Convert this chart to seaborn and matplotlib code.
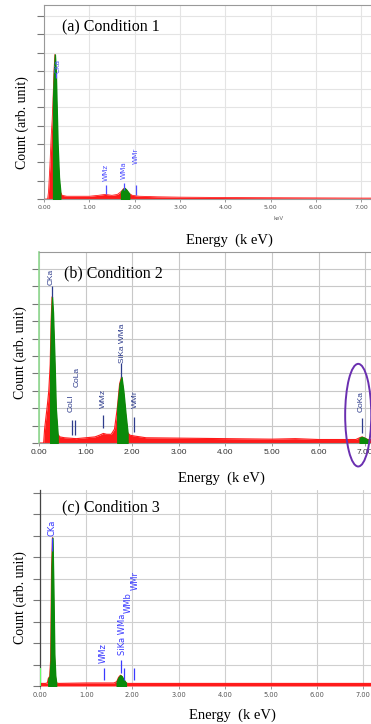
import numpy as np
import pandas as pd
import matplotlib
matplotlib.use("Agg")
import matplotlib.pyplot as plt
import seaborn as sns
from matplotlib.patches import Ellipse

# spectra, counts in grid units (one unit = one gridline)
energy_a = [0.00, 0.08, 0.10, 0.13, 0.16, 0.18, 0.20, 0.22, 0.24, 0.26, 0.28, 0.30, 0.33, 0.36, 0.40,
            0.50, 0.70, 1.00, 1.20, 1.35, 1.50, 1.62, 1.70, 1.75, 1.78, 1.82, 1.88, 1.95, 2.10, 2.50,
            3.00, 4.00, 5.00, 6.00, 7.00, 7.50]
counts_a = [0, 0, 0.4, 1.8, 3.5, 4.3, 5.5, 7.0, 7.9, 7.0, 5.0, 3.0, 1.2, 0.4, 0.2,
            0.15, 0.15, 0.15, 0.2, 0.25, 0.2, 0.25, 0.4, 0.55, 0.6, 0.5, 0.3, 0.2, 0.15, 0.12,
            0.1, 0.08, 0.07, 0.06, 0.05, 0.05]
green_a = [(0.19, 0.36), (1.65, 1.92)]

energy_b = [0.00, 0.10, 0.12, 0.15, 0.18, 0.21, 0.24, 0.26, 0.28, 0.30, 0.33, 0.36, 0.40, 0.45, 0.55,
            0.80, 1.00, 1.20, 1.30, 1.38, 1.45, 1.55, 1.62, 1.68, 1.73, 1.77, 1.81, 1.86, 1.90, 1.95,
            2.05, 2.30, 3.00, 4.00, 5.00, 5.50, 6.00, 6.80, 6.88, 6.93, 6.98, 7.05, 7.50]
counts_b = [0, 0, 0.8, 1.5, 2.2, 3.0, 4.5, 7.0, 8.4, 7.5, 5.0, 2.0, 0.5, 0.35, 0.3,
            0.25, 0.3, 0.35, 0.45, 0.55, 0.5, 0.5, 0.8, 2.0, 3.4, 3.8, 3.0, 1.6, 0.6, 0.45,
            0.4, 0.3, 0.28, 0.25, 0.22, 0.25, 0.2, 0.2, 0.3, 0.35, 0.3, 0.2, 0.2]
green_b = [(0.24, 0.40), (1.64, 1.90), (6.82, 7.05)]

energy_c = [0.00, 0.12, 0.16, 0.18, 0.21, 0.23, 0.25, 0.27, 0.29, 0.31, 0.33, 0.35, 0.40, 1.00,
            1.60, 1.66, 1.70, 1.74, 1.77, 1.81, 1.86, 1.90, 3.00, 7.50]
counts_c = [0.12, 0.12, 0.15, 0.35, 0.45, 1.2, 5.5, 6.9, 4.5, 1.5, 0.5, 0.15, 0.12, 0.14,
            0.14, 0.2, 0.4, 0.5, 0.45, 0.3, 0.15, 0.12, 0.12, 0.12]
green_c = [(0.18, 0.35), (1.66, 1.88)]
zero_peak_c = 0.85

# peak labels: text, x, bottom of text, marker bar (lo, hi)
labels_a = ["CKa", "WMz", "WMa", "WMr"]
label_x_a = [0.29, 1.37, 1.77, 2.02]
label_y_a = [6.9, 1.0, 1.1, 1.9]
mark_x_a = [0.27, 1.37, 1.77, 2.03]
mark_lo_a = [6.6, 0.3, 0.5, 0.2]
mark_hi_a = [6.9, 0.75, 0.9, 0.75]

labels_b = ["CKa", "CoLl", "CoLa", "WMz", "SiKa WMa", "WMr", "CoKa"]
label_x_b = [0.27, 0.70, 0.81, 1.38, 1.80, 2.06, 6.92]
label_y_b = [9.1, 1.8, 3.2, 2.0, 4.6, 2.0, 1.8]
mark_x_b = [0.27, 0.70, 0.78, 1.38, 1.77, 2.03, 6.93]
mark_lo_b = [8.4, 0.45, 0.45, 0.85, 3.8, 0.65, 0.6]
mark_hi_b = [9.0, 1.3, 1.3, 1.6, 4.6, 1.5, 1.45]

labels_c = ["CKa", "WMz", "SiKa WMa", "WMb", "WMr"]
label_x_c = [0.27, 1.37, 1.79, 1.91, 2.06]
label_y_c = [7.0, 1.05, 1.45, 3.4, 4.45]
mark_x_c = [0.27, 1.38, 1.75, 1.82, 2.04]
mark_lo_c = [6.3, 0.3, 0.6, 0.3, 0.3]
mark_hi_c = [6.9, 0.85, 1.2, 0.85, 0.85]

xticks = [0, 1, 2, 3, 4, 5, 6, 7]

sns.set_theme(style="whitegrid")
plt.rcParams['font.family'] = ['Liberation Serif', 'DejaVu Serif']

W, H = 371, 724
fig = plt.figure(figsize=(W / 100, H / 100), dpi=100)


def px_axes(x0, kev_px, ybot, ytop, ymax):
    # axes placed in pixel coords, x from 0 to 7.5 keV
    ax = fig.add_axes([x0 / W, 1 - ybot / H, 7.5 * kev_px / W, (ybot - ytop) / H])
    ax.set_xlim(0, 7.5)
    ax.set_ylim(0, ymax)
    return ax


def draw_spectrum(ax, energy, counts, greens, lw):
    df = pd.DataFrame({"energy": energy, "counts": counts})
    ax.fill_between(df["energy"], 0, df["counts"], color="#ff1a1a", lw=0, zorder=2)
    sns.lineplot(data=df, x="energy", y="counts", color="#ff1a1a", lw=lw, ax=ax, zorder=2)
    e = df["energy"].to_numpy()
    for lo, hi in greens:
        mask = (e >= lo) & (e <= hi)
        ax.fill_between(e, 0, df["counts"], where=mask, color="#0a8a0a", ec="#0a8a0a",
                        lw=1.0, zorder=3)


def style_axes(ax, grid_col, tick_font, tick_size, tick_col, nticks):
    ax.set_xticks(xticks)
    ax.set_xticklabels([f"{t:.2f}" for t in xticks], fontfamily=tick_font,
                       fontsize=tick_size, color=tick_col)
    ax.set_yticks(range(nticks + 1))
    ax.set_yticklabels([])
    ax.grid(True, color=grid_col, lw=0.8)
    ax.tick_params(axis="y", direction="out", length=5, width=0.8, color="#777777", left=True)
    ax.tick_params(axis="x", direction="out", length=2.5, width=0.6, color="#888888",
                   bottom=True, pad=2)
    ax.set_xlabel("")
    ax.set_ylabel("")
    ax.set_facecolor("white")


def peak_labels(ax, names, lx, ly, mx, mlo, mhi, col, size, family):
    for name, x, y in zip(names, lx, ly):
        ax.text(x, y, name, rotation=90, ha="center", va="bottom", color=col,
                fontsize=size, fontfamily=family, zorder=5)
    ax.vlines(mx, mlo, mhi, color=col, lw=0.9, zorder=5)


# (a) Condition 1
ax_a = px_axes(44, 45.3, 199, 5, 10.6)
draw_spectrum(ax_a, energy_a, counts_a, green_a, 0.6)
style_axes(ax_a, "#e4e4e4", "DejaVu Sans", 4.5, "#555555", 10)
for s in ax_a.spines.values():
    s.set_color("#999999")
    s.set_linewidth(0.8)
peak_labels(ax_a, labels_a, label_x_a, label_y_a, mark_x_a, mark_lo_a, mark_hi_a,
            "#5050ff", 5.2, "DejaVu Sans")
fig.text(279 / W, 1 - 219 / H, "keV", fontsize=4, color="#666666", ha="center", va="center",
         fontfamily="DejaVu Sans")

# (b) Condition 2
ax_b = px_axes(39, 46.6, 443, 252, 10.98)
draw_spectrum(ax_b, energy_b, counts_b, green_b, 0.8)
style_axes(ax_b, "#c8c8c8", "Liberation Sans", 6, "#333333", 10)
for s in ax_b.spines.values():
    s.set_color("#999999")
    s.set_linewidth(0.8)
ax_b.spines["left"].set_color("#8fd88f")
ax_b.spines["left"].set_linewidth(1.2)
peak_labels(ax_b, labels_b, label_x_b, label_y_b, mark_x_b, mark_lo_b, mark_hi_b,
            "#2e3c8c", 6, "Liberation Sans")
ax_b.add_patch(Ellipse((6.85, 1.6), 0.56, 5.9, fill=False, ec="#6a2fb0", lw=1.4,
                       clip_on=False, zorder=6))

# (c) Condition 3
ax_c = px_axes(40, 46.2, 686, 490, 9.12)
draw_spectrum(ax_c, energy_c, counts_c, green_c, 0.8)
style_axes(ax_c, "#cfcfcf", "DejaVu Sans", 4.8, "#555555", 9)
for s in ax_c.spines.values():
    s.set_visible(False)
ax_c.spines["left"].set_visible(True)
ax_c.spines["left"].set_color("#444444")
ax_c.spines["left"].set_linewidth(0.9)
ax_c.vlines([0.0], 0, zero_peak_c, color="#66ff66", lw=1.5, zorder=6)
peak_labels(ax_c, labels_c, label_x_c, label_y_c, mark_x_c, mark_lo_c, mark_hi_c,
            "#3a3aff", 6, "Liberation Sans Narrow")

# panel titles and axis labels
titles = ["(a) Condition 1", "(b) Condition 2", "(c) Condition 3"]
title_pos = [(62, 26), (64, 273), (62, 507)]
ylab_pos = [(22, 123), (20, 353), (20, 598)]
xlab_pos = [(229, 240), (221, 478), (232, 715)]
for t, (tx, ty), (yx, yy), (xx, xy) in zip(titles, title_pos, ylab_pos, xlab_pos):
    fig.text(tx / W, 1 - ty / H, t, fontsize=11.5, ha="left", va="center", color="black")
    fig.text(yx / W, 1 - yy / H, "Count (arb. unit)", rotation=90, fontsize=10,
             ha="center", va="center", color="black")
    fig.text(xx / W, 1 - xy / H, "Energy  (k eV)", fontsize=10.5, ha="center",
             va="center", color="black")

fig.savefig("out.png", dpi=100)
